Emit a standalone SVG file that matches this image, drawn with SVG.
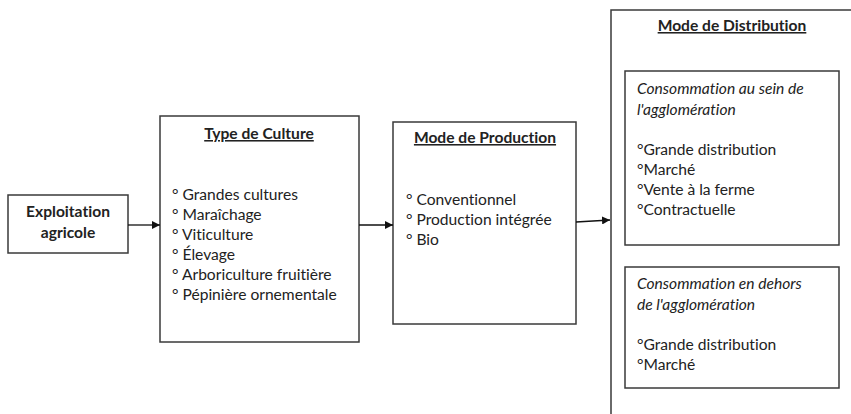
<svg xmlns="http://www.w3.org/2000/svg" width="851" height="414" viewBox="0 0 851 414">
<style>
.box{fill:#fff;stroke:#3a3a3a;stroke-width:1.5}
text{font-family:Lato,"Liberation Sans",sans-serif;font-size:15.6px;fill:#222;font-variant-ligatures:none}
.b{font-weight:bold}
.t{font-weight:bold;text-decoration:underline}
.i{font-style:italic}
.c{stroke:#111;stroke-width:1.3;fill:none}
</style>
<defs>
<marker id="ah" viewBox="0 0 10 10" refX="10" refY="5" markerWidth="8" markerHeight="8" markerUnits="userSpaceOnUse" orient="auto">
<path d="M0,0 L10,5 L0,10 z" fill="#111"/>
</marker>
</defs>
<rect width="851" height="414" fill="#fff"/>
<g id="distribution">
<rect class="box" x="611" y="10" width="260" height="420"/>
<text class="t" x="732" y="31" text-anchor="middle">Mode de Distribution</text>
</g>
<g id="exploitation">
<rect class="box" x="8" y="195" width="120" height="58"/>
<text class="b" x="68" y="217" text-anchor="middle">Exploitation</text>
<text class="b" x="68" y="238" text-anchor="middle">agricole</text>
</g>
<g id="culture">
<rect class="box" x="160" y="116" width="199" height="226"/>
<text class="t" x="259" y="139" text-anchor="middle">Type de Culture</text>
<text x="172" y="200">° Grandes cultures</text>
<text x="172" y="220">° Maraîchage</text>
<text x="172" y="240">° Viticulture</text>
<text x="172" y="260">° Élevage</text>
<text x="172" y="280">° Arboriculture fruitière</text>
<text x="172" y="300">° Pépinière ornementale</text>
</g>
<g id="production">
<rect class="box" x="393" y="122" width="183" height="202"/>
<text class="t" x="485" y="143" text-anchor="middle">Mode de Production</text>
<text x="406" y="205">° Conventionnel</text>
<text x="406" y="225">° Production intégrée</text>
<text x="406" y="245">° Bio</text>
</g>
<g id="interne">
<rect class="box" x="625" y="71" width="214" height="174"/>
<text class="i" x="637" y="94">Consommation au sein de</text>
<text class="i" x="637" y="115">l'agglomération</text>
<text x="637" y="155">°Grande distribution</text>
<text x="637" y="175">°Marché</text>
<text x="637" y="195">°Vente à la ferme</text>
<text x="637" y="215">°Contractuelle</text>
</g>
<g id="externe">
<rect class="box" x="625" y="267" width="214" height="121"/>
<text class="i" x="637" y="289">Consommation en dehors</text>
<text class="i" x="637" y="310">de l'agglomération</text>
<text x="637" y="350">°Grande distribution</text>
<text x="637" y="370">°Marché</text>
</g>
<g id="connectors">
<line class="c" x1="128" y1="225" x2="160" y2="225" marker-end="url(#ah)"/>
<line class="c" x1="359" y1="225" x2="393" y2="225" marker-end="url(#ah)"/>
<line class="c" x1="576" y1="222" x2="610" y2="220" marker-end="url(#ah)"/>
</g>
</svg>
